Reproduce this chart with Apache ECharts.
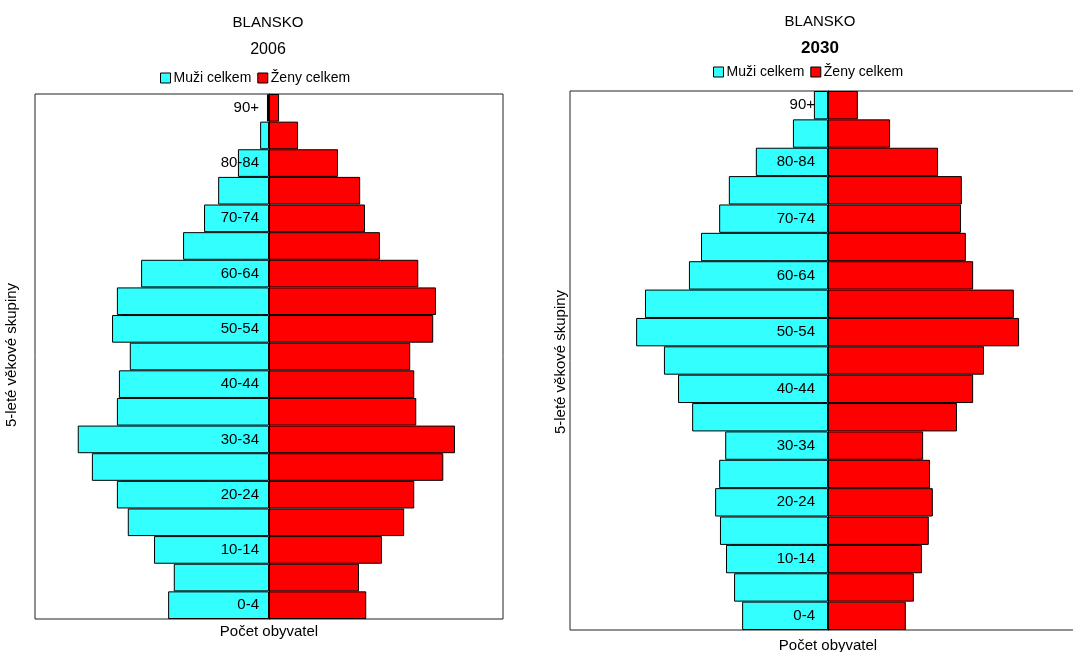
<!DOCTYPE html>
<html>
<head>
<meta charset="utf-8">
<script src="https://cdn.jsdelivr.net/npm/echarts@6/dist/echarts.min.js"></script>
<style>
html,body{margin:0;padding:0;background:#fff;}
#c{width:1073px;height:652px;}
</style>
</head>
<body>
<div id="c"></div>
<script>
const categories = ['0-4','5-9','10-14','15-19','20-24','25-29','30-34','35-39','40-44','45-49','50-54','55-59','60-64','65-69','70-74','75-79','80-84','85-89','90+'];
const men2006   = [2500, 2360, 2850, 3500, 3770, 4390, 4740, 3770, 3720, 3450, 3890, 3770, 3170, 2130, 1610, 1260, 770, 220, 50];
const women2006 = [2410, 2230, 2800, 3350, 3600, 4320, 4610, 3650, 3600, 3500, 4070, 4140, 3700, 2750, 2380, 2260, 1710, 720, 250];
const men2030   = [2130, 2330, 2530, 2680, 2800, 2700, 2550, 3370, 3720, 4070, 4760, 4540, 3450, 3150, 2700, 2460, 1790, 870, 350];
const women2030 = [1930, 2130, 2330, 2500, 2600, 2530, 2360, 3200, 3600, 3870, 4740, 4610, 3600, 3420, 3300, 3320, 2730, 1540, 740];
const seriesNames = ['Muži celkem', 'Ženy celkem'];
const FONT = '"Liberation Sans", Arial, sans-serif';

const chart = echarts.init(document.getElementById('c'));

function xAx(idx, max, gap){
  return {
    type:'value', gridIndex: idx, min: -max, max: max,
    axisLine:{show:false, onZero:false}, axisTick:{show:false}, axisLabel:{show:false}, splitLine:{show:false},
    name:'Počet obyvatel', nameLocation:'middle', nameGap: gap,
    nameTextStyle:{color:'#000', fontSize:15, fontFamily:FONT}
  };
}
function yAx(idx, margin, offset){
  return {
    type:'category', gridIndex: idx, data: categories, z: 10, offset: offset,
    axisLine:{onZero:false, lineStyle:{color:'#000', width:1}},
    axisTick:{show:false},
    axisLabel:{interval:1, margin: margin, color:'#000', fontSize:15, fontFamily:FONT},
    splitLine:{show:false}
  };
}
function bars(idx, name, vals, color, neg){
  return {
    type:'bar', name: name, xAxisIndex: idx, yAxisIndex: idx,
    data: vals.map(v => neg ? -v : v),
    barWidth:'100%', barGap:'-100%',
    itemStyle:{color: color, borderColor:'#000', borderWidth:1},
    emphasis:{disabled:true}, animation:false
  };
}
function leg(left, top){
  return {left:left, top:top, padding:0, itemWidth:10, itemHeight:10, itemGap:6, icon:'rect', data: seriesNames,
    itemStyle:{borderColor:'#000', borderWidth:1},
    textStyle:{color:'#000', fontSize:14, fontFamily:FONT, padding:[0,0,0,-2]}, selectedMode:false};
}

chart.setOption({
  animation:false,
  textStyle:{fontFamily:FONT},
  grid:[
    {left:35, right:570, top:94, bottom:33, outerBoundsMode:'none', containLabel:false, show:true, borderColor:'#222', borderWidth:1, backgroundColor:'transparent'},
    {left:570, right:-13, top:91, bottom:22, outerBoundsMode:'none', containLabel:false, show:true, borderColor:'#222', borderWidth:1, backgroundColor:'transparent'}
  ],
  legend:[leg(160, 71), leg(713, 65)],
  xAxis:[xAx(0, 5800, 5), xAx(1, 6400, 8)],
  yAxis:[yAx(0, 10, -234), yAx(1, 13, -258)],
  series:[
    bars(0, seriesNames[0], men2006, '#33FFFF', true),
    bars(0, seriesNames[1], women2006, '#FF0000', false),
    bars(1, seriesNames[0], men2030, '#33FFFF', true),
    bars(1, seriesNames[1], women2030, '#FF0000', false)
  ],
  graphic:[
    {type:'text', x:268, y:23, style:{text:'BLANSKO', align:'center', verticalAlign:'middle', fill:'#000', font:'15px '+FONT}},
    {type:'text', x:268, y:50, style:{text:'2006', align:'center', verticalAlign:'middle', fill:'#000', font:'16px '+FONT}},
    {type:'text', x:820, y:22, style:{text:'BLANSKO', align:'center', verticalAlign:'middle', fill:'#000', font:'15px '+FONT}},
    {type:'text', x:820, y:48, style:{text:'2030', align:'center', verticalAlign:'middle', fill:'#000', font:'bold 17px '+FONT}},
    {type:'text', x:12, y:355, rotation:Math.PI/2, style:{text:'5-leté věkové skupiny', align:'center', verticalAlign:'middle', fill:'#000', font:'15px '+FONT}},
    {type:'text', x:561, y:362, rotation:Math.PI/2, style:{text:'5-leté věkové skupiny', align:'center', verticalAlign:'middle', fill:'#000', font:'15px '+FONT}}
  ]
});
</script>
</body>
</html>
